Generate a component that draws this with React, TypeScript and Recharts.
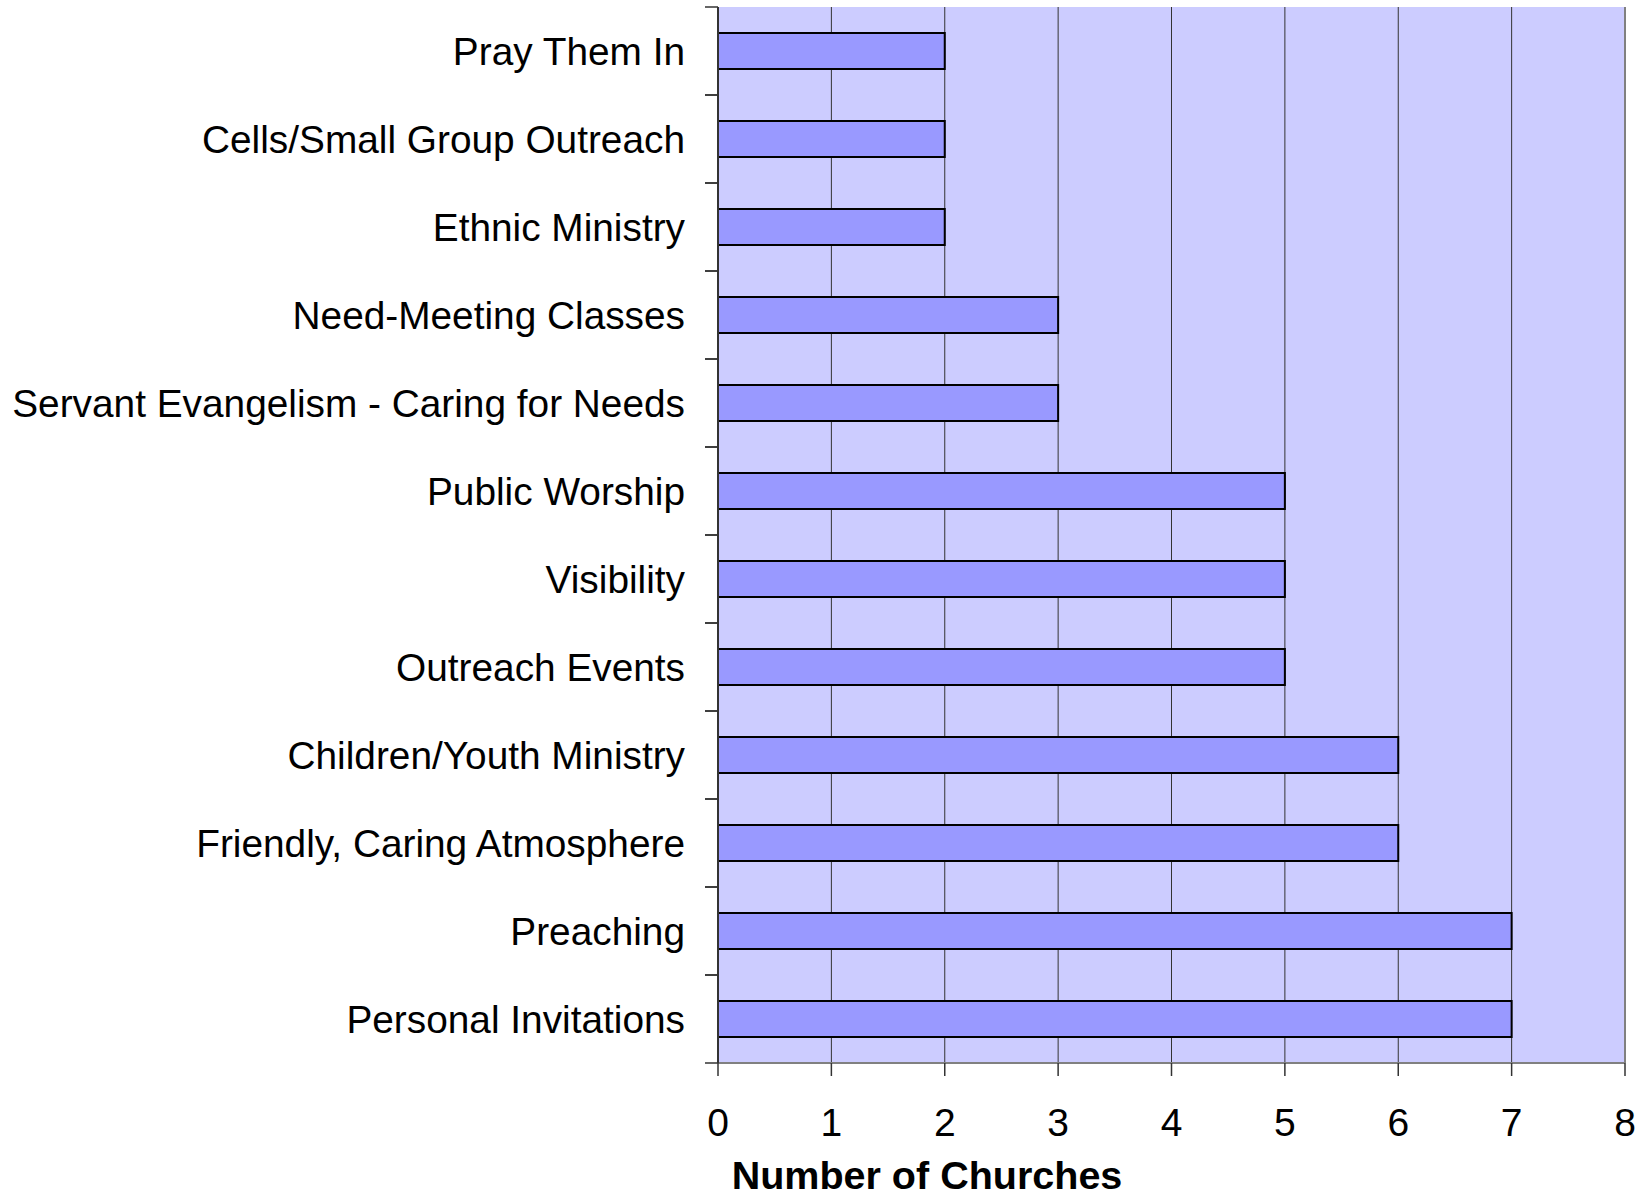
import React from 'react';
import { BarChart, Bar, XAxis, YAxis, CartesianGrid, ReferenceLine, Label } from 'recharts';

// categories, top to bottom
const categories = [
  'Pray Them In',
  'Cells/Small Group Outreach',
  'Ethnic Ministry',
  'Need-Meeting Classes',
  'Servant Evangelism - Caring for Needs',
  'Public Worship',
  'Visibility',
  'Outreach Events',
  'Children/Youth Ministry',
  'Friendly, Caring Atmosphere',
  'Preaching',
  'Personal Invitations',
];

const churchCounts = [2, 2, 2, 3, 3, 5, 5, 5, 6, 6, 7, 7];

const xTicks = [0, 1, 2, 3, 4, 5, 6, 7, 8];

const FONT = '"Liberation Sans", Arial, Helvetica, sans-serif';

const CategoryTick = (props: any) => {
  const { x, y, payload } = props;
  const half = payload && payload.offset ? payload.offset : 44;
  return (
    <g>
      <line x1={x + 20} x2={x + 33} y1={y - half} y2={y - half} stroke="#333" strokeWidth={1.5} />
      <line x1={x + 20} x2={x + 33} y1={y + half} y2={y + half} stroke="#333" strokeWidth={1.5} />
      <text x={x} y={y} dy="0.35em" textAnchor="end" fontSize={38.8} fontFamily={FONT} fill="#000">
        {payload.value}
      </text>
    </g>
  );
};

const AxisTitle = (props: any) => {
  const { viewBox } = props;
  if (!viewBox) return null;
  return (
    <text
      x={viewBox.x + 209}
      y={viewBox.y + 126}
      textAnchor="middle"
      fontSize={39.5}
      fontWeight="bold"
      fontFamily={FONT}
      fill="#000"
    >
      Number of Churches
    </text>
  );
};

export default function App() {
  const data = categories.map((name, i) => ({ name, value: churchCounts[i] }));

  return (
    <div style={{ position: 'absolute', left: 0, top: 0, width: 1644, height: 1199, background: '#fff' }}>
      <BarChart
        width={1644}
        height={1199}
        data={data}
        layout="vertical"
        margin={{ top: 7, right: 19, bottom: 0, left: 0 }}
        barCategoryGap="29.5%"
      >
        <CartesianGrid horizontal={false} fill="#CCCCFF" stroke="#333" strokeWidth={1} />
        <XAxis
          type="number"
          domain={[0, 8]}
          ticks={xTicks}
          interval={0}
          height={136}
          tickSize={13}
          tickMargin={32}
          axisLine={{ stroke: '#808080', strokeWidth: 2 }}
          tickLine={{ stroke: '#333', strokeWidth: 1.5 }}
          tick={{ fill: '#000', fontSize: 39, fontFamily: FONT }}
        >
          <Label content={<AxisTitle />} />
        </XAxis>
        <XAxis
          xAxisId="top"
          orientation="top"
          type="number"
          domain={[0, 8]}
          height={0}
          tick={false}
          tickLine={false}
          axisLine={{ stroke: '#808080', strokeWidth: 2 }}
        />
        <YAxis
          type="category"
          dataKey="name"
          width={718}
          tickSize={13}
          tickMargin={20}
          tickLine={false}
          interval={0}
          axisLine={{ stroke: '#333', strokeWidth: 2 }}
          tick={<CategoryTick />}
        />
        <ReferenceLine x={8} stroke="#808080" strokeWidth={2} />
        <Bar dataKey="value" fill="#9999FF" stroke="#000" strokeWidth={2} isAnimationActive={false} />
      </BarChart>
    </div>
  );
}
